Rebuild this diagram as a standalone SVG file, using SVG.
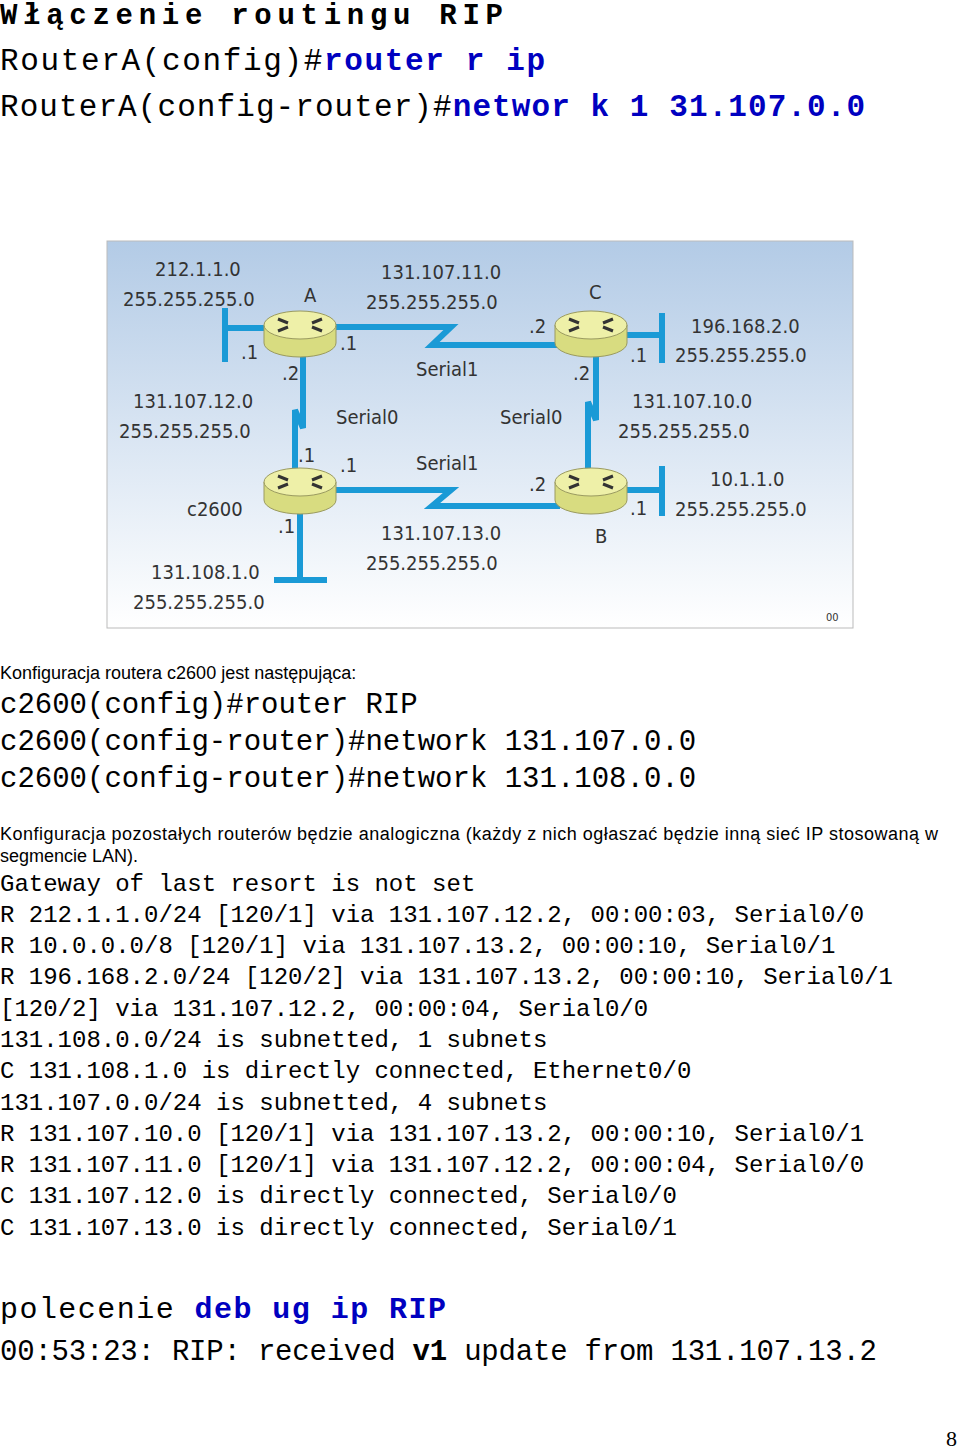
<svg xmlns="http://www.w3.org/2000/svg" width="960" height="1452" viewBox="0 0 960 1452">
<style>
.m{font-family:"Liberation Mono","Courier New",monospace;fill:#000}
.b{fill:#0000c0;font-weight:bold}
.s{font-family:"Liberation Sans",Arial,sans-serif;font-size:18px;fill:#000}
.d{font-family:"DejaVu Sans Condensed","Liberation Sans",sans-serif;font-size:20px;fill:#333}
.ln{stroke:#1a9ad6;stroke-width:6;fill:none;stroke-linejoin:miter}
</style>
<defs>
<linearGradient id="bg" x1="0" y1="0" x2="0" y2="1">
<stop offset="0" stop-color="#b3cbe6"/><stop offset="1" stop-color="#ffffff"/>
</linearGradient>
<g id="rt">
<path d="M-36,-8 v18 a36,14 0 0 0 72,0 v-18" fill="#d8dc80" stroke="#9a9a60"/>
<ellipse cx="0" cy="-8" rx="36" ry="14" fill="#eef0a8" stroke="#9a9a60"/>
<g stroke="#333" stroke-width="3" fill="none">
<path d="M-22,-14 l10,4 M-22,-2 l10,-4 M22,-14 l-10,4 M22,-2 l-10,-4"/>
</g>
</g>
</defs>
<text class="m" x="0" y="24" font-size="29" font-weight="bold" textLength="503">Włączenie routingu RIP</text>
<text class="m" x="0" y="70" font-size="31" textLength="545">RouterA(config)#<tspan class="b">router r ip</tspan></text>
<text class="m" x="0" y="116" font-size="31" textLength="865">RouterA(config-router)#<tspan class="b">networ k 1 31.107.0.0</tspan></text>

<rect x="107" y="241" width="746" height="387" fill="url(#bg)" stroke="#bbb"/>
<g id="connectors">
<path class="ln" d="M330,327 H451 L432,345 H560"/>
<path class="ln" d="M330,490 H451 L432,506 H560"/>
<path class="ln" d="M303,355 V428 L295,410 V470"/>
<path class="ln" d="M596,355 V420 L588,402 V470"/>
<path class="ln" d="M225,328 H266 M225,308 V362"/>
<path class="ln" d="M624,335 H662 M662,313 V363"/>
<path class="ln" d="M624,490 H662 M662,466 V516"/>
<path class="ln" d="M300,510 V580 M274,580 H327"/>
</g>
<g id="A"><use href="#rt" x="300" y="333"/></g>
<g id="C"><use href="#rt" x="591" y="333"/></g>
<g id="c2600"><use href="#rt" x="300" y="490"/></g>
<g id="B"><use href="#rt" x="591" y="490"/></g>
<g class="d">
<text x="155" y="276">212.1.1.0</text>
<text x="123" y="306">255.255.255.0</text>
<text x="304" y="302">A</text>
<text x="381" y="279">131.107.11.0</text>
<text x="366" y="309">255.255.255.0</text>
<text x="589" y="299">C</text>
<text x="691" y="333">196.168.2.0</text>
<text x="675" y="362">255.255.255.0</text>
<text x="241" y="359">.1</text>
<text x="340" y="350">.1</text>
<text x="282" y="380">.2</text>
<text x="529" y="333">.2</text>
<text x="630" y="362">.1</text>
<text x="573" y="380">.2</text>
<text x="416" y="376">Serial1</text>
<text x="133" y="408">131.107.12.0</text>
<text x="119" y="438">255.255.255.0</text>
<text x="336" y="424">Serial0</text>
<text x="500" y="424">Serial0</text>
<text x="632" y="408">131.107.10.0</text>
<text x="618" y="438">255.255.255.0</text>
<text x="298" y="462">.1</text>
<text x="340" y="472">.1</text>
<text x="416" y="470">Serial1</text>
<text x="529" y="491">.2</text>
<text x="187" y="516">c2600</text>
<text x="278" y="533">.1</text>
<text x="630" y="515">.1</text>
<text x="710" y="486">10.1.1.0</text>
<text x="675" y="516">255.255.255.0</text>
<text x="595" y="543">B</text>
<text x="381" y="540">131.107.13.0</text>
<text x="366" y="570">255.255.255.0</text>
<text x="151" y="579">131.108.1.0</text>
<text x="133" y="609">255.255.255.0</text>
<text x="826" y="621" font-size="11">00</text>
</g>

<text class="s" x="0" y="679">Konfiguracja routera c2600 jest następująca:</text>
<text class="m" x="0" y="713" font-size="29">c2600(config)#router RIP</text>
<text class="m" x="0" y="750" font-size="29">c2600(config-router)#network 131.107.0.0</text>
<text class="m" x="0" y="787" font-size="29">c2600(config-router)#network 131.108.0.0</text>
<text class="s" x="0" y="840" textLength="938">Konfiguracja pozostałych routerów będzie analogiczna (każdy z nich ogłaszać będzie inną sieć IP stosowaną w</text>
<text class="s" x="0" y="862">segmencie LAN).</text>
<g class="m" font-size="24">
<text x="0" y="891">Gateway of last resort is not set</text>
<text x="0" y="922">R 212.1.1.0/24 [120/1] via 131.107.12.2, 00:00:03, Serial0/0</text>
<text x="0" y="953">R 10.0.0.0/8 [120/1] via 131.107.13.2, 00:00:10, Serial0/1</text>
<text x="0" y="984">R 196.168.2.0/24 [120/2] via 131.107.13.2, 00:00:10, Serial0/1</text>
<text x="0" y="1016">[120/2] via 131.107.12.2, 00:00:04, Serial0/0</text>
<text x="0" y="1047">131.108.0.0/24 is subnetted, 1 subnets</text>
<text x="0" y="1078">C 131.108.1.0 is directly connected, Ethernet0/0</text>
<text x="0" y="1110">131.107.0.0/24 is subnetted, 4 subnets</text>
<text x="0" y="1141">R 131.107.10.0 [120/1] via 131.107.13.2, 00:00:10, Serial0/1</text>
<text x="0" y="1172">R 131.107.11.0 [120/1] via 131.107.12.2, 00:00:04, Serial0/0</text>
<text x="0" y="1203">C 131.107.12.0 is directly connected, Serial0/0</text>
<text x="0" y="1235">C 131.107.13.0 is directly connected, Serial0/1</text>
</g>
<text class="m" x="0" y="1318" font-size="30" textLength="446">polecenie <tspan class="b">deb ug ip RIP</tspan></text>
<text class="m" x="0" y="1360" font-size="29" textLength="877">00:53:23: RIP: received <tspan font-weight="bold">v1</tspan> update from 131.107.13.2</text>
<text x="946" y="1446" font-family="Liberation Serif,serif" font-size="22">8</text>
</svg>
